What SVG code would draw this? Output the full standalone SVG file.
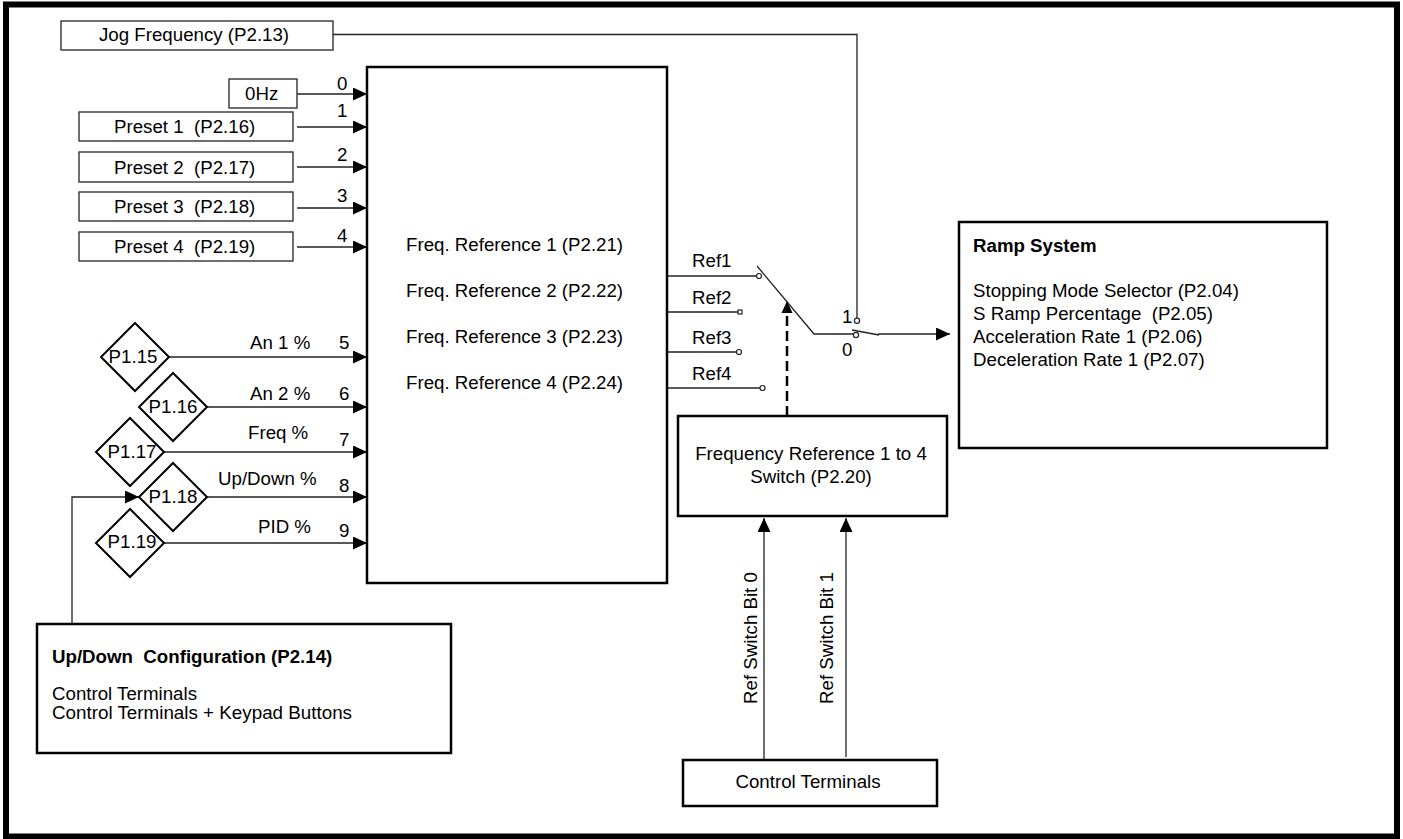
<svg xmlns="http://www.w3.org/2000/svg" width="1403" height="839" viewBox="0 0 1403 839">
<style>
text{font-family:"Liberation Sans",Arial,sans-serif;font-size:18.7px;fill:#000;white-space:pre}
.b{font-weight:bold}
.m{text-anchor:middle}
.sm{font-size:17.5px}
.box{fill:#fff;stroke:#000;stroke-width:2.5}
.sbox{fill:#fff;stroke:#333;stroke-width:1.4}
.dia{fill:#fff;stroke:#000;stroke-width:2}
.ln{fill:none;stroke:#222;stroke-width:1.3}
.dash{fill:none;stroke:#000;stroke-width:2.5;stroke-dasharray:10 5}
.term{fill:#fff;stroke:#222;stroke-width:1.2}
</style>
<defs>
<marker id="arr" markerUnits="userSpaceOnUse" markerWidth="14" markerHeight="13" refX="14" refY="6.5" orient="auto">
<path d="M0,0 L14,6.5 L0,13 Z" fill="#000"/>
</marker>
</defs>
<rect x="0" y="0" width="1403" height="839" fill="#fff"/>
<rect x="6" y="4.5" width="1391" height="832" fill="none" stroke="#000" stroke-width="6"/>

<g id="connectors">
<path class="ln" d="M333,34.5 H857 V318"/>
<path class="ln" d="M297,94 H367" marker-end="url(#arr)"/>
<path class="ln" d="M297,127 H367" marker-end="url(#arr)"/>
<path class="ln" d="M297,167 H367" marker-end="url(#arr)"/>
<path class="ln" d="M297,208 H367" marker-end="url(#arr)"/>
<path class="ln" d="M297,247 H367" marker-end="url(#arr)"/>
<path class="ln" d="M169,357 H367" marker-end="url(#arr)"/>
<path class="ln" d="M207,407 H367" marker-end="url(#arr)"/>
<path class="ln" d="M164,452 H367" marker-end="url(#arr)"/>
<path class="ln" d="M207,497 H367" marker-end="url(#arr)"/>
<path class="ln" d="M164,543 H367" marker-end="url(#arr)"/>
<path class="ln" d="M72,624 V497 H139" marker-end="url(#arr)"/>
<path class="ln" d="M667,276 H756.5"/>
<path class="ln" d="M667,312 H738"/>
<path class="ln" d="M667,352 H736.5"/>
<path class="ln" d="M667,388 H760"/>
<rect class="term" x="738" y="310" width="4" height="4"/>
<circle class="term" cx="739" cy="352" r="2.5"/>
<circle class="term" cx="762.5" cy="388" r="2.5"/>
<circle class="term" cx="759" cy="276" r="2.5"/>
<path class="ln" d="M757,266 L814,334 H853"/>
<circle class="term" cx="857" cy="320.7" r="2.6"/>
<circle class="term" cx="856" cy="335" r="2.6"/>
<path class="ln" d="M852,330 L879,335"/>
<path class="ln" d="M878,334 H950" marker-end="url(#arr)"/>
<path class="dash" d="M787,416 V312"/>
<path d="M781.5,313 L787,301 L792.5,313 Z" fill="#000"/>
<path class="ln" d="M764,760 V518" marker-end="url(#arr)"/>
<path class="ln" d="M846,757 V518" marker-end="url(#arr)"/>
</g>

<g id="jog"><rect class="sbox" x="61" y="21" width="272" height="29"/><text x="99" y="41">Jog Frequency (P2.13)</text></g>
<g id="zero"><rect class="sbox" x="229" y="79" width="68" height="29"/><text x="245" y="100">0Hz</text></g>
<g id="preset1"><rect class="sbox" x="79" y="112" width="214" height="29"/><text x="114" y="133">Preset 1  (P2.16)</text></g>
<g id="preset2"><rect class="sbox" x="79" y="152" width="214" height="30"/><text x="114" y="173.5">Preset 2  (P2.17)</text></g>
<g id="preset3"><rect class="sbox" x="79" y="192" width="214" height="29"/><text x="114" y="213">Preset 3  (P2.18)</text></g>
<g id="preset4"><rect class="sbox" x="79" y="232" width="214" height="29"/><text x="114" y="253">Preset 4  (P2.19)</text></g>

<g id="labels">
<text x="337" y="90">0</text>
<text x="337" y="117">1</text>
<text x="337" y="161">2</text>
<text x="337" y="202">3</text>
<text x="337" y="242">4</text>
<text x="339" y="349">5</text>
<text x="339" y="400">6</text>
<text x="339" y="446">7</text>
<text x="339" y="492">8</text>
<text x="339" y="537">9</text>
<text x="250" y="349">An 1 %</text>
<text x="250" y="400">An 2 %</text>
<text x="248" y="439">Freq %</text>
<text x="218" y="485">Up/Down %</text>
<text x="258" y="533">PID %</text>
<text x="692" y="267">Ref1</text>
<text x="692" y="304">Ref2</text>
<text x="692" y="344">Ref3</text>
<text x="692" y="380">Ref4</text>
<text x="842" y="323">1</text>
<text x="842" y="356">0</text>
<text transform="translate(757,704) rotate(-90)">Ref Switch Bit 0</text>
<text transform="translate(833,704) rotate(-90)">Ref Switch Bit 1</text>
</g>

<g id="p115"><polygon class="dia" points="135,323 169,357 135,391 101,357"/><text class="m" x="133" y="363">P1.15</text></g>
<g id="p116"><polygon class="dia" points="173,373 207,407 173,441 139,407"/><text class="m" x="173" y="413">P1.16</text></g>
<g id="p117"><polygon class="dia" points="130,418 164,452 130,486 96,452"/><text class="m" x="132" y="458">P1.17</text></g>
<g id="p118"><polygon class="dia" points="173,463 207,497 173,531 139,497"/><text class="m" x="173" y="503">P1.18</text></g>
<g id="p119"><polygon class="dia" points="130,509 164,543 130,577 96,543"/><text class="m" x="132" y="548">P1.19</text></g>

<g id="selector"><rect class="box" x="367" y="67" width="300" height="516"/>
<text x="406" y="251">Freq. Reference 1 (P2.21)</text>
<text x="406" y="297">Freq. Reference 2 (P2.22)</text>
<text x="406" y="343">Freq. Reference 3 (P2.23)</text>
<text x="406" y="389">Freq. Reference 4 (P2.24)</text>
</g>

<g id="ramp"><rect class="box" x="959" y="222" width="368" height="226"/>
<text class="b" x="973" y="252">Ramp System</text>
<text x="973" y="297">Stopping Mode Selector (P2.04)</text>
<text x="973" y="320">S Ramp Percentage  (P2.05)</text>
<text x="973" y="343">Acceleration Rate 1 (P2.06)</text>
<text x="973" y="366">Deceleration Rate 1 (P2.07)</text>
</g>

<g id="switch"><rect class="box" x="678" y="416" width="269" height="100"/>
<text class="m" x="811" y="460">Frequency Reference 1 to 4</text>
<text class="m" x="811" y="483">Switch (P2.20)</text>
</g>

<g id="terminals"><rect class="box" x="683" y="760" width="254" height="46"/>
<text class="m" x="808" y="788">Control Terminals</text>
</g>

<g id="updown"><rect class="box" x="37" y="624" width="414" height="129"/>
<text class="b" x="52" y="663">Up/Down  Configuration (P2.14)</text>
<text class="sm" x="52" y="700" textLength="145" lengthAdjust="spacingAndGlyphs">Control Terminals</text>
<text class="sm" x="52" y="719" textLength="300" lengthAdjust="spacingAndGlyphs">Control Terminals + Keypad Buttons</text>
</g>
</svg>
